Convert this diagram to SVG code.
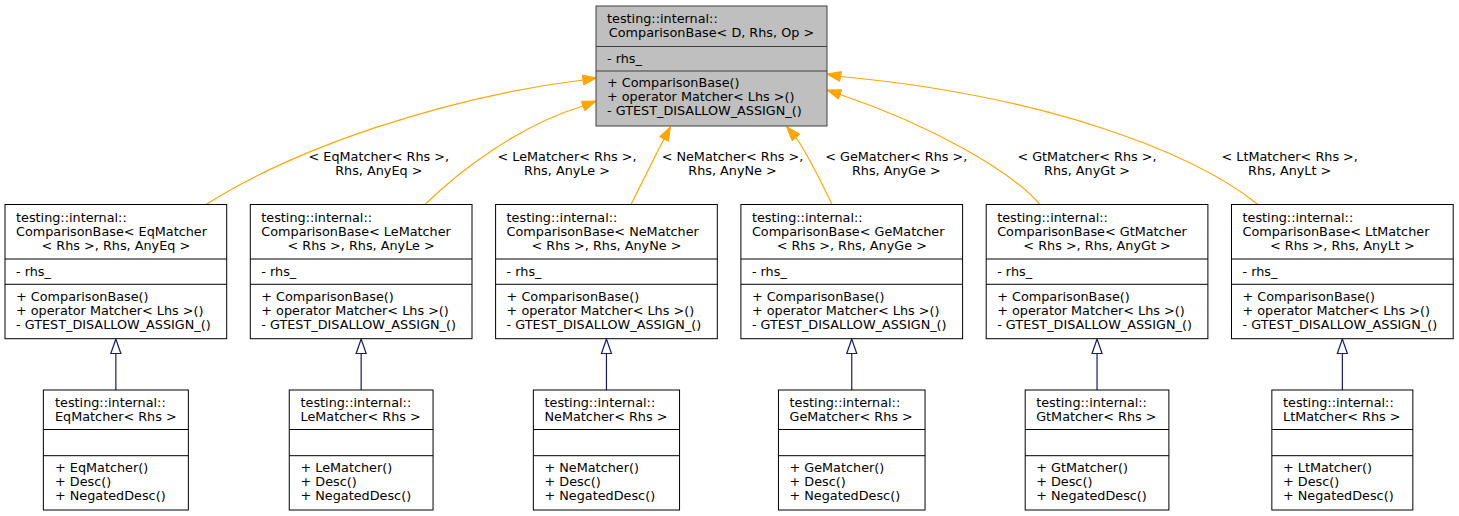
<svg xmlns="http://www.w3.org/2000/svg" width="1459" height="516" viewBox="0 0 1459 516">
<style>
  text { font-family: "DejaVu Sans", "Liberation Sans", sans-serif; font-size: 12.8px; fill: #000; }
  .c { text-anchor: middle; }
  .box { fill: #ffffff; stroke: #000000; stroke-width: 1; }
  .root { fill: #bfbfbf; stroke: #404040; stroke-width: 1; }
  .sep { stroke: #000000; stroke-width: 1; }
  .rootsep { stroke: #404040; stroke-width: 1; }
  .tmpl { fill: none; stroke: #ffa500; stroke-width: 1.2; }
  .tmplhead { fill: #ffa500; stroke: #ffa500; stroke-width: 1; }
  .inh { fill: none; stroke: #191970; stroke-width: 1.2; }
  .inhhead { fill: #ffffff; stroke: #191970; stroke-width: 1.2; }
</style>

<!-- template instantiation and inheritance connectors -->
<g id="edges">
  <path class="tmpl" d="M206,204.5 C295,148 445,97 583,80"/>
  <polygon class="tmplhead" points="596.5,78 583.7,84.9 582.3,75.1"/>
  <text class="c"><tspan x="378.8" y="160.5">&lt; EqMatcher&lt; Rhs &gt;,</tspan><tspan x="378.8" y="174.5">Rhs, AnyEq &gt;</tspan></text>

  <path class="tmpl" d="M425,204.5 C460,170 520,125 583,106"/>
  <polygon class="tmplhead" points="596.5,101 584.7,110.7 581.3,101.3"/>
  <text class="c"><tspan x="567" y="160.5">&lt; LeMatcher&lt; Rhs &gt;,</tspan><tspan x="567" y="174.5">Rhs, AnyLe &gt;</tspan></text>

  <path class="tmpl" d="M631,204.5 C642,183 653,160 664,139"/>
  <polygon class="tmplhead" points="670.5,126.5 668.4,141.3 659.6,136.7"/>
  <text class="c"><tspan x="732.5" y="160.5">&lt; NeMatcher&lt; Rhs &gt;,</tspan><tspan x="732.5" y="174.5">Rhs, AnyNe &gt;</tspan></text>

  <path class="tmpl" d="M832,204.5 C825,190 810,158 796,137.5"/>
  <polygon class="tmplhead" points="786.5,126.5 799.8,134.2 792.2,140.8"/>
  <text class="c"><tspan x="896.3" y="160.5">&lt; GeMatcher&lt; Rhs &gt;,</tspan><tspan x="896.3" y="174.5">Rhs, AnyGe &gt;</tspan></text>

  <path class="tmpl" d="M1040,204.5 C1010,170 930,125 840,94.5"/>
  <polygon class="tmplhead" points="827,90 841.6,89.8 838.4,99.2"/>
  <text class="c"><tspan x="1087" y="160.5">&lt; GtMatcher&lt; Rhs &gt;,</tspan><tspan x="1087" y="174.5">Rhs, AnyGt &gt;</tspan></text>

  <path class="tmpl" d="M1258,204.5 C1190,150 1040,95 840.5,76.5"/>
  <polygon class="tmplhead" points="827,74 841.4,71.6 839.6,81.4"/>
  <text class="c"><tspan x="1289.7" y="160.5">&lt; LtMatcher&lt; Rhs &gt;,</tspan><tspan x="1289.7" y="174.5">Rhs, AnyLt &gt;</tspan></text>

  <line class="inh" x1="115.85" y1="390" x2="115.85" y2="353.5"/>
  <polygon class="inhhead" points="115.85,339 110.85,353.5 120.85,353.5"/>
  <line class="inh" x1="361.15" y1="390" x2="361.15" y2="353.5"/>
  <polygon class="inhhead" points="361.15,339 356.15,353.5 366.15,353.5"/>
  <line class="inh" x1="606.45" y1="390" x2="606.45" y2="353.5"/>
  <polygon class="inhhead" points="606.45,339 601.45,353.5 611.45,353.5"/>
  <line class="inh" x1="851.75" y1="390" x2="851.75" y2="353.5"/>
  <polygon class="inhhead" points="851.75,339 846.75,353.5 856.75,353.5"/>
  <line class="inh" x1="1097.05" y1="390" x2="1097.05" y2="353.5"/>
  <polygon class="inhhead" points="1097.05,339 1092.05,353.5 1102.05,353.5"/>
  <line class="inh" x1="1342.35" y1="390" x2="1342.35" y2="353.5"/>
  <polygon class="inhhead" points="1342.35,339 1337.35,353.5 1347.35,353.5"/>
</g>

<!-- class template -->
<g id="ComparisonBase">
  <rect class="root" x="596" y="6" width="231" height="120"/>
  <line class="rootsep" x1="596" y1="46.5" x2="827" y2="46.5"/>
  <line class="rootsep" x1="596" y1="71" x2="827" y2="71"/>
  <text x="607" y="23">testing::internal::</text>
  <text class="c" x="711.5" y="37">ComparisonBase&lt; D, Rhs, Op &gt;</text>
  <text x="607" y="62.7">- rhs_</text>
  <text x="607" y="86.5">+ ComparisonBase()</text>
  <text x="607" y="100.7">+ operator Matcher&lt; Lhs &gt;()</text>
  <text x="607" y="115">- GTEST_DISALLOW_ASSIGN_()</text>
</g>

<!-- template instances -->
<g id="ComparisonBase_Eq">
  <rect class="box" x="5" y="204.5" width="221.7" height="134.2"/>
  <line class="sep" x1="5" y1="259" x2="226.7" y2="259"/>
  <line class="sep" x1="5" y1="284.3" x2="226.7" y2="284.3"/>
  <text x="16" y="221.5">testing::internal::</text>
  <text x="16" y="235.5">ComparisonBase&lt; EqMatcher</text>
  <text class="c" x="115.85" y="249.5">&lt; Rhs &gt;, Rhs, AnyEq &gt;</text>
  <text x="16" y="275.8">- rhs_</text>
  <text x="16" y="300.8">+ ComparisonBase()</text>
  <text x="16" y="315">+ operator Matcher&lt; Lhs &gt;()</text>
  <text x="16" y="329.2">- GTEST_DISALLOW_ASSIGN_()</text>
</g>
<g id="ComparisonBase_Le">
  <rect class="box" x="250.3" y="204.5" width="221.7" height="134.2"/>
  <line class="sep" x1="250.3" y1="259" x2="472" y2="259"/>
  <line class="sep" x1="250.3" y1="284.3" x2="472" y2="284.3"/>
  <text x="261.3" y="221.5">testing::internal::</text>
  <text x="261.3" y="235.5">ComparisonBase&lt; LeMatcher</text>
  <text class="c" x="361.15" y="249.5">&lt; Rhs &gt;, Rhs, AnyLe &gt;</text>
  <text x="261.3" y="275.8">- rhs_</text>
  <text x="261.3" y="300.8">+ ComparisonBase()</text>
  <text x="261.3" y="315">+ operator Matcher&lt; Lhs &gt;()</text>
  <text x="261.3" y="329.2">- GTEST_DISALLOW_ASSIGN_()</text>
</g>
<g id="ComparisonBase_Ne">
  <rect class="box" x="495.6" y="204.5" width="221.7" height="134.2"/>
  <line class="sep" x1="495.6" y1="259" x2="717.3" y2="259"/>
  <line class="sep" x1="495.6" y1="284.3" x2="717.3" y2="284.3"/>
  <text x="506.6" y="221.5">testing::internal::</text>
  <text x="506.6" y="235.5">ComparisonBase&lt; NeMatcher</text>
  <text class="c" x="606.45" y="249.5">&lt; Rhs &gt;, Rhs, AnyNe &gt;</text>
  <text x="506.6" y="275.8">- rhs_</text>
  <text x="506.6" y="300.8">+ ComparisonBase()</text>
  <text x="506.6" y="315">+ operator Matcher&lt; Lhs &gt;()</text>
  <text x="506.6" y="329.2">- GTEST_DISALLOW_ASSIGN_()</text>
</g>
<g id="ComparisonBase_Ge">
  <rect class="box" x="740.9" y="204.5" width="221.7" height="134.2"/>
  <line class="sep" x1="740.9" y1="259" x2="962.6" y2="259"/>
  <line class="sep" x1="740.9" y1="284.3" x2="962.6" y2="284.3"/>
  <text x="751.9" y="221.5">testing::internal::</text>
  <text x="751.9" y="235.5">ComparisonBase&lt; GeMatcher</text>
  <text class="c" x="851.75" y="249.5">&lt; Rhs &gt;, Rhs, AnyGe &gt;</text>
  <text x="751.9" y="275.8">- rhs_</text>
  <text x="751.9" y="300.8">+ ComparisonBase()</text>
  <text x="751.9" y="315">+ operator Matcher&lt; Lhs &gt;()</text>
  <text x="751.9" y="329.2">- GTEST_DISALLOW_ASSIGN_()</text>
</g>
<g id="ComparisonBase_Gt">
  <rect class="box" x="986.2" y="204.5" width="221.7" height="134.2"/>
  <line class="sep" x1="986.2" y1="259" x2="1207.9" y2="259"/>
  <line class="sep" x1="986.2" y1="284.3" x2="1207.9" y2="284.3"/>
  <text x="997.2" y="221.5">testing::internal::</text>
  <text x="997.2" y="235.5">ComparisonBase&lt; GtMatcher</text>
  <text class="c" x="1097.05" y="249.5">&lt; Rhs &gt;, Rhs, AnyGt &gt;</text>
  <text x="997.2" y="275.8">- rhs_</text>
  <text x="997.2" y="300.8">+ ComparisonBase()</text>
  <text x="997.2" y="315">+ operator Matcher&lt; Lhs &gt;()</text>
  <text x="997.2" y="329.2">- GTEST_DISALLOW_ASSIGN_()</text>
</g>
<g id="ComparisonBase_Lt">
  <rect class="box" x="1231.5" y="204.5" width="221.7" height="134.2"/>
  <line class="sep" x1="1231.5" y1="259" x2="1453.2" y2="259"/>
  <line class="sep" x1="1231.5" y1="284.3" x2="1453.2" y2="284.3"/>
  <text x="1242.5" y="221.5">testing::internal::</text>
  <text x="1242.5" y="235.5">ComparisonBase&lt; LtMatcher</text>
  <text class="c" x="1342.35" y="249.5">&lt; Rhs &gt;, Rhs, AnyLt &gt;</text>
  <text x="1242.5" y="275.8">- rhs_</text>
  <text x="1242.5" y="300.8">+ ComparisonBase()</text>
  <text x="1242.5" y="315">+ operator Matcher&lt; Lhs &gt;()</text>
  <text x="1242.5" y="329.2">- GTEST_DISALLOW_ASSIGN_()</text>
</g>

<!-- derived matchers -->
<g id="EqMatcher">
  <rect class="box" x="43.35" y="390" width="145" height="120"/>
  <line class="sep" x1="43.35" y1="429.5" x2="188.35" y2="429.5"/>
  <line class="sep" x1="43.35" y1="455.7" x2="188.35" y2="455.7"/>
  <text x="55" y="406.8">testing::internal::</text>
  <text x="55" y="420.8">EqMatcher&lt; Rhs &gt;</text>
  <text x="55" y="472">+ EqMatcher()</text>
  <text x="55" y="486">+ Desc()</text>
  <text x="55" y="500.2">+ NegatedDesc()</text>
</g>
<g id="LeMatcher">
  <rect class="box" x="289.25" y="390" width="143.8" height="120"/>
  <line class="sep" x1="289.25" y1="429.5" x2="433.05" y2="429.5"/>
  <line class="sep" x1="289.25" y1="455.7" x2="433.05" y2="455.7"/>
  <text x="300.5" y="406.8">testing::internal::</text>
  <text x="300.5" y="420.8">LeMatcher&lt; Rhs &gt;</text>
  <text x="300.5" y="472">+ LeMatcher()</text>
  <text x="300.5" y="486">+ Desc()</text>
  <text x="300.5" y="500.2">+ NegatedDesc()</text>
</g>
<g id="NeMatcher">
  <rect class="box" x="533.35" y="390" width="146.2" height="120"/>
  <line class="sep" x1="533.35" y1="429.5" x2="679.55" y2="429.5"/>
  <line class="sep" x1="533.35" y1="455.7" x2="679.55" y2="455.7"/>
  <text x="544.5" y="406.8">testing::internal::</text>
  <text x="544.5" y="420.8">NeMatcher&lt; Rhs &gt;</text>
  <text x="544.5" y="472">+ NeMatcher()</text>
  <text x="544.5" y="486">+ Desc()</text>
  <text x="544.5" y="500.2">+ NegatedDesc()</text>
</g>
<g id="GeMatcher">
  <rect class="box" x="778.45" y="390" width="146.6" height="120"/>
  <line class="sep" x1="778.45" y1="429.5" x2="925.05" y2="429.5"/>
  <line class="sep" x1="778.45" y1="455.7" x2="925.05" y2="455.7"/>
  <text x="789.5" y="406.8">testing::internal::</text>
  <text x="789.5" y="420.8">GeMatcher&lt; Rhs &gt;</text>
  <text x="789.5" y="472">+ GeMatcher()</text>
  <text x="789.5" y="486">+ Desc()</text>
  <text x="789.5" y="500.2">+ NegatedDesc()</text>
</g>
<g id="GtMatcher">
  <rect class="box" x="1025.2" y="390" width="143.7" height="120"/>
  <line class="sep" x1="1025.2" y1="429.5" x2="1168.9" y2="429.5"/>
  <line class="sep" x1="1025.2" y1="455.7" x2="1168.9" y2="455.7"/>
  <text x="1036.2" y="406.8">testing::internal::</text>
  <text x="1036.2" y="420.8">GtMatcher&lt; Rhs &gt;</text>
  <text x="1036.2" y="472">+ GtMatcher()</text>
  <text x="1036.2" y="486">+ Desc()</text>
  <text x="1036.2" y="500.2">+ NegatedDesc()</text>
</g>
<g id="LtMatcher">
  <rect class="box" x="1271.85" y="390" width="141" height="120"/>
  <line class="sep" x1="1271.85" y1="429.5" x2="1412.85" y2="429.5"/>
  <line class="sep" x1="1271.85" y1="455.7" x2="1412.85" y2="455.7"/>
  <text x="1283" y="406.8">testing::internal::</text>
  <text x="1283" y="420.8">LtMatcher&lt; Rhs &gt;</text>
  <text x="1283" y="472">+ LtMatcher()</text>
  <text x="1283" y="486">+ Desc()</text>
  <text x="1283" y="500.2">+ NegatedDesc()</text>
</g>
</svg>
